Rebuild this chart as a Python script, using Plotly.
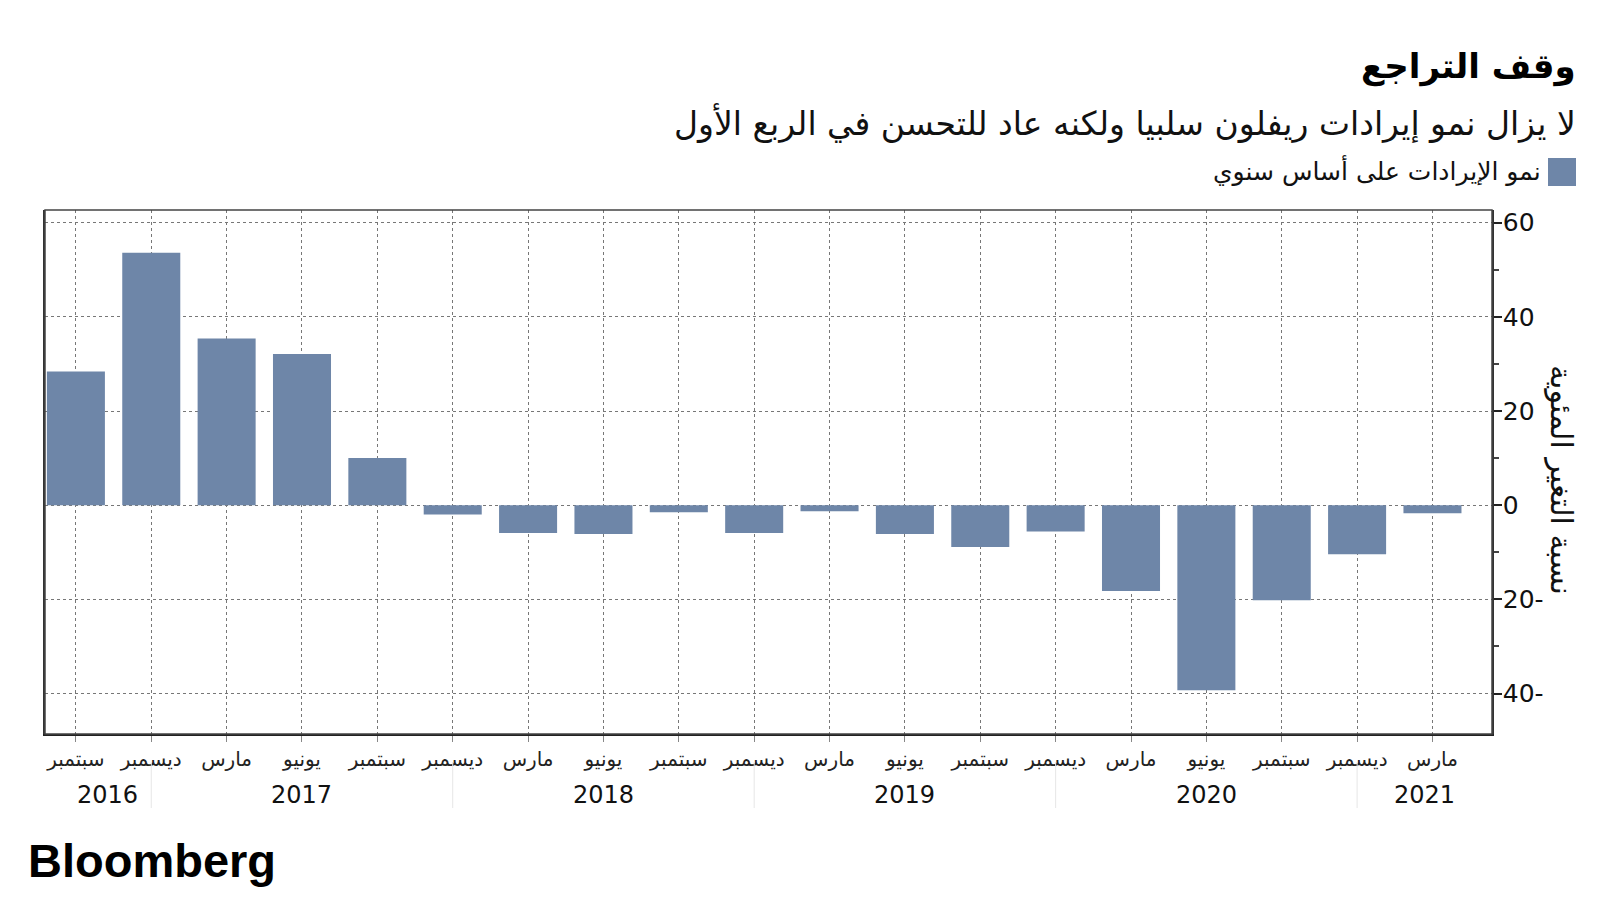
import plotly.graph_objects as go

months = ["سبتمبر", "ديسمبر", "مارس", "يونيو", "سبتمبر", "ديسمبر", "مارس", "يونيو", "سبتمبر",
          "ديسمبر", "مارس", "يونيو", "سبتمبر", "ديسمبر", "مارس", "يونيو", "سبتمبر", "ديسمبر", "مارس"]
growth = [28.4, 53.6, 35.4, 32.1, 10.0, -2.0, -5.9, -6.1, -1.5, -5.9, -1.3, -6.1, -8.9, -5.6,
          -18.2, -39.3, -20.2, -10.4, -1.7]
years = ["2016", "2017", "2018", "2019", "2020", "2021"]
year_pos = [0.42, 3.0, 7.0, 11.0, 15.0, 17.9]
year_breaks = [1, 5, 9, 13, 17]
y_ticks = [-40, -20, 0, 20, 40, 60]
y_ticktext = ["40-", "20-", "0", "20", "40", "60"]

title = "وقف التراجع"
subtitle = "لا يزال نمو إيرادات ريفلون سلبيا ولكنه عاد للتحسن في الربع الأول"
legend_name = "نمو الإيرادات على أساس سنوي"
y_title = "نسبة التغير المئوية"

BAR = "#6e86a8"
AR_FONT = "DejaVu Sans"

# plot area in page pixels (page body has an 8px margin)
OFF = 8
L, R, T, B = 45, 1492, 210, 734
W, H = R - L, B - T


def px(x):
    return (x - L) / W


def py(y):
    return (B - y) / H


x_idx = list(range(len(growth)))

fig = go.Figure()
fig.add_trace(go.Bar(x=x_idx, y=growth, marker=dict(color=BAR, line=dict(width=0)),
                     width=0.77, name=legend_name, showlegend=False))

fig.update_layout(
    width=1600, height=900,
    margin=dict(l=L - OFF, r=1600 - R + OFF, t=T - OFF, b=900 - B + OFF),
    paper_bgcolor="white", plot_bgcolor="white",
    font=dict(family=AR_FONT, color="#111"),
)

fig.update_xaxes(
    range=[-0.41, 18.79], tickmode="array", tickvals=x_idx, ticktext=months,
    tickfont=dict(family=AR_FONT, size=20, color="#222"),
    showgrid=True, gridcolor="#777", griddash="dot", gridwidth=1,
    ticks="outside", ticklen=6, tickcolor="#888", tickwidth=1,
    showline=True, linecolor="#222", linewidth=2, mirror=False,
    zeroline=False, fixedrange=True,
)
fig.update_yaxes(
    range=[-48.6, 62.7], side="right", tickmode="array", tickvals=y_ticks, ticktext=y_ticktext,
    tickfont=dict(family="DejaVu Sans", size=25, color="#111"),
    showgrid=True, gridcolor="#777", griddash="dot", gridwidth=1,
    ticks="outside", ticklen=8, tickcolor="#222", tickwidth=1.5,
    ticklabelstandoff=-4,
    minor=dict(ticks="outside", ticklen=5, tickcolor="#444", dtick=10, tick0=0, showgrid=False),
    showline=True, linecolor="#333", linewidth=1.5, mirror=True,
    zeroline=False, fixedrange=True,
)
# border
fig.add_shape(type="rect", xref="paper", yref="paper", x0=0, x1=1, y0=0, y1=1,
              line=dict(color="#444", width=1.5), fillcolor="rgba(0,0,0,0)", layer="above")

# year separators
for b in year_breaks:
    fig.add_shape(type="line", xref="x", yref="paper", x0=b, x1=b, y0=py(762), y1=py(808),
                  line=dict(color="#e6e6e6", width=1))

# year labels
for yr, pos in zip(years, year_pos):
    fig.add_annotation(x=pos, xref="x", y=py(795), yref="paper", text=yr, showarrow=False,
                       font=dict(family="DejaVu Sans", size=24, color="#111"),
                       xanchor="center", yanchor="middle")

# title / subtitle
fig.add_annotation(x=px(1578), y=py(66), xref="paper", yref="paper", text="<b>" + title + "</b>",
                   showarrow=False, xanchor="right", yanchor="middle",
                   font=dict(family=AR_FONT, size=34, color="#000"))
fig.add_annotation(x=px(1578), y=py(123), xref="paper", yref="paper", text=subtitle,
                   showarrow=False, xanchor="right", yanchor="middle",
                   font=dict(family=AR_FONT, size=33, color="#111"))
# legend
fig.add_shape(type="rect", xref="paper", yref="paper", x0=px(1548), x1=px(1576), y0=py(186), y1=py(158),
              fillcolor=BAR, line=dict(width=0))
fig.add_annotation(x=px(1543), y=py(170), xref="paper", yref="paper", text=legend_name,
                   showarrow=False, xanchor="right", yanchor="middle",
                   font=dict(family=AR_FONT, size=25, color="#111"))
# y title
fig.add_annotation(x=px(1562), y=py(480), xref="paper", yref="paper", text=y_title,
                   showarrow=False, textangle=90, xanchor="center", yanchor="middle",
                   font=dict(family=AR_FONT, size=30, color="#111"))
# logo
fig.add_annotation(x=px(26), y=py(860), xref="paper", yref="paper", text="<b>Bloomberg</b>",
                   showarrow=False, xanchor="left", yanchor="middle",
                   font=dict(family="Liberation Sans", size=47, color="#000"))

fig.write_html("out.html")
